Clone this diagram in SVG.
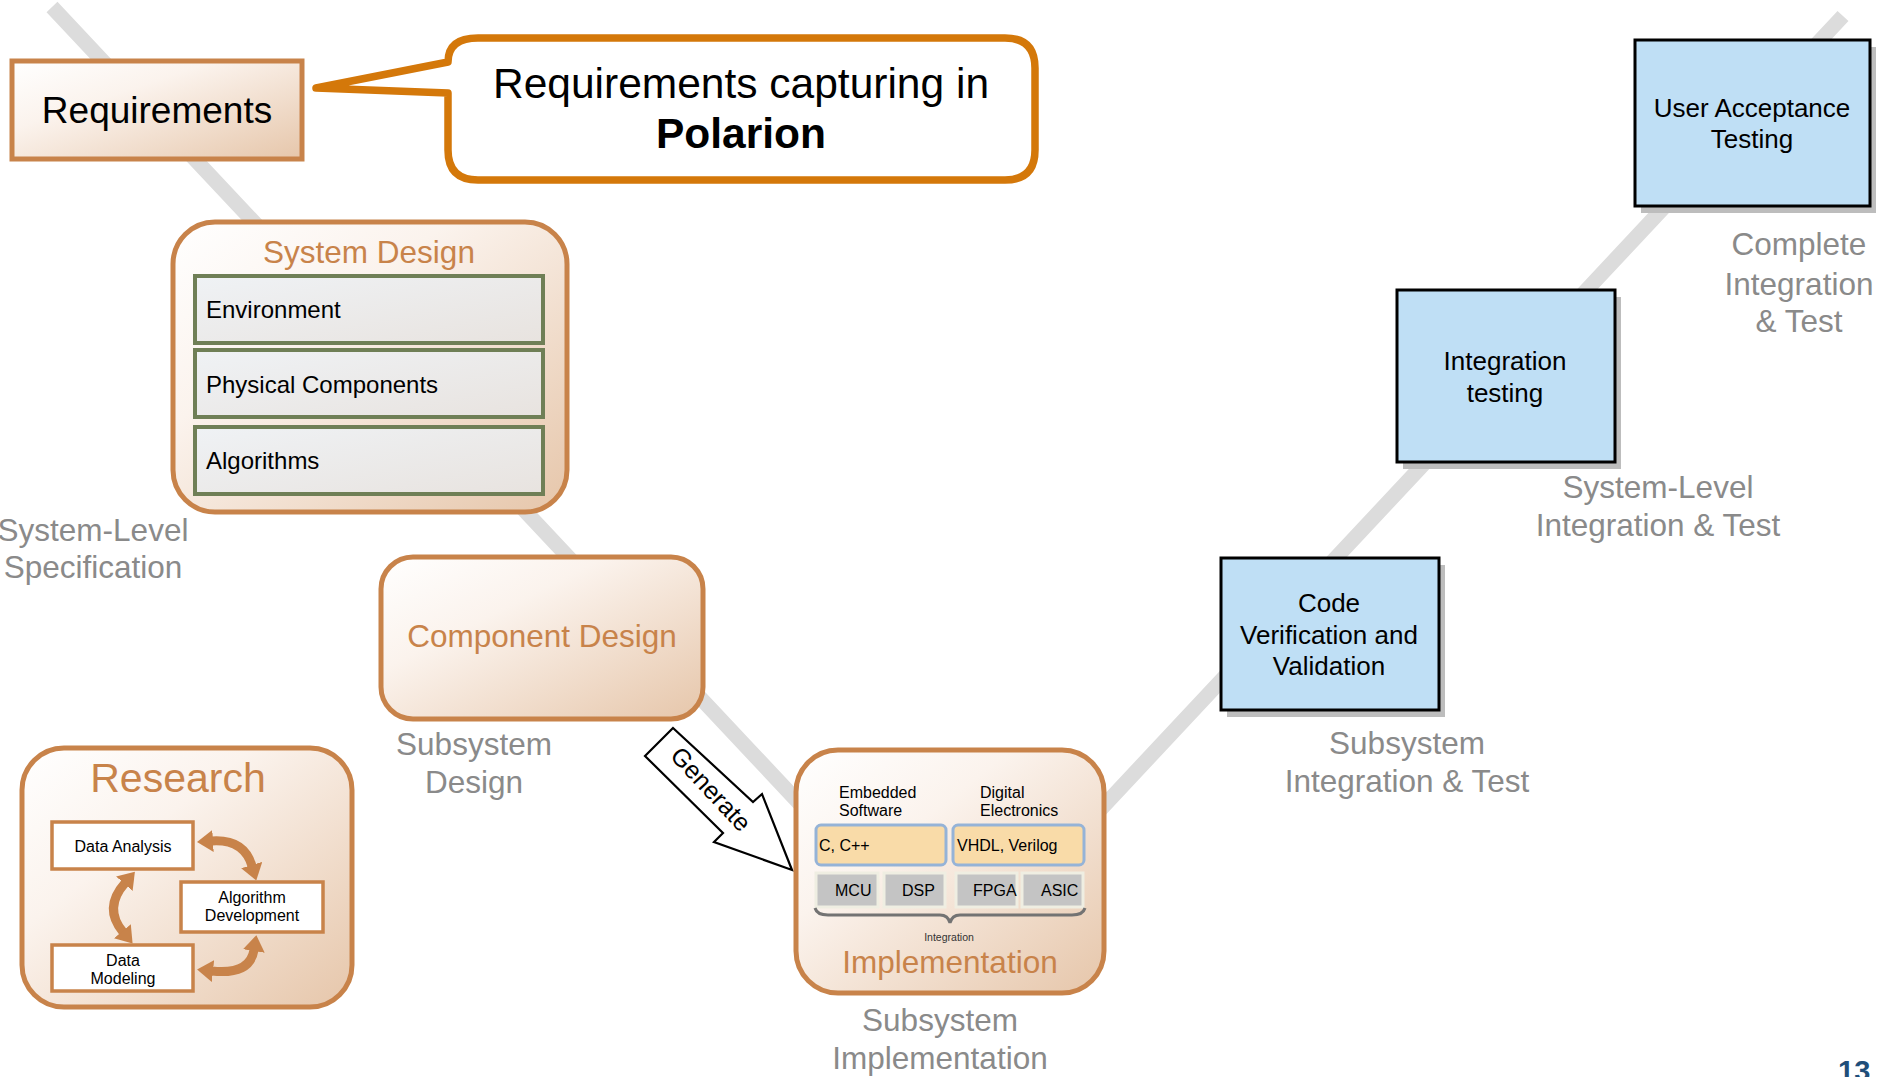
<svg xmlns="http://www.w3.org/2000/svg" width="1877" height="1077" viewBox="0 0 1877 1077">
<defs>
  <linearGradient id="copperFill" x1="0" y1="0" x2="1" y2="1">
    <stop offset="0" stop-color="#ffffff"/>
    <stop offset="0.35" stop-color="#fbf3ed"/>
    <stop offset="1" stop-color="#e6c6aa"/>
  </linearGradient>
  <linearGradient id="greyFill" x1="0" y1="0" x2="1" y2="1">
    <stop offset="0" stop-color="#eff2f5"/>
    <stop offset="1" stop-color="#e8e3df"/>
  </linearGradient>
  <marker id="cuHead" markerUnits="userSpaceOnUse" markerWidth="16" markerHeight="22" viewBox="0 0 16 22" refX="1" refY="11" orient="auto-start-reverse">
    <path d="M0,0 L16,11 L0,22 z" fill="#c8834a"/>
  </marker>
  <style>
    text { font-family: "Liberation Sans", Arial, sans-serif; }
    .cuBox { fill: url(#copperFill); stroke: #c8834a; stroke-width: 5; }
    .cuTitle { fill: #c8834a; text-anchor: middle; }
    .greyLbl { fill: #8a8a8a; font-size: 31.5px; text-anchor: middle; }
    .sdBox { fill: url(#greyFill); stroke: #6f7f56; stroke-width: 4; }
    .sdTxt { font-size: 24px; fill: #000; }
    .blueBox { fill: #bfdff5; stroke: #000; stroke-width: 3; }
    .shadow { fill: #bdbdbd; }
    .blueTxt { font-size: 26px; fill: #000; text-anchor: middle; }
    .resBox { fill: #ffffff; stroke: #c8834a; stroke-width: 3.5; }
    .resTxt { font-size: 16px; fill: #000; text-anchor: middle; }
    .langBox { fill: #f9dba8; stroke: #95b3d7; stroke-width: 3; }
    .chip { fill: #c4c4c4; stroke: #efeee2; stroke-width: 3; }
    .small { font-size: 16px; fill: #000; }
    .cuArrow { fill: none; stroke: #c8834a; stroke-width: 9; marker-start: url(#cuHead); marker-end: url(#cuHead); }
  </style>
</defs>
<rect width="1877" height="1077" fill="#ffffff"/>

<g id="v-model-line">
  <polyline points="52,7 953,967 1843,16" fill="none" stroke="#dcdcdc" stroke-width="15" stroke-linejoin="miter"/>
</g>

<g id="requirements">
  <rect class="cuBox" x="12" y="61" width="290" height="98"/>
  <text x="157" y="123" font-size="37" text-anchor="middle" fill="#000">Requirements</text>
</g>

<g id="callout-polarion">
  <path d="M478,38 H1005 Q1035,38 1035,68 V150 Q1035,180 1005,180 H478 Q448,180 448,150 V93 L316,88 L448,62 Q448,38 478,38 Z" fill="#ffffff" stroke="#d4780a" stroke-width="7.5" stroke-linejoin="round"/>
  <text x="741" y="98" font-size="42.5" text-anchor="middle" fill="#000">Requirements capturing in</text>
  <text x="741" y="148" font-size="42.5" font-weight="bold" text-anchor="middle" fill="#000">Polarion</text>
</g>

<g id="system-design">
  <rect class="cuBox" x="173" y="222" width="394" height="290" rx="42"/>
  <text class="cuTitle" x="369" y="263" font-size="31.5">System Design</text>
  <rect class="sdBox" x="195" y="276" width="348" height="67"/>
  <text class="sdTxt" x="206" y="318">Environment</text>
  <rect class="sdBox" x="195" y="350" width="348" height="67"/>
  <text class="sdTxt" x="206" y="393">Physical Components</text>
  <rect class="sdBox" x="195" y="427" width="348" height="67"/>
  <text class="sdTxt" x="206" y="469">Algorithms</text>
</g>

<g id="label-system-level-spec">
  <text class="greyLbl" x="93" y="541">System-Level</text>
  <text class="greyLbl" x="93" y="578">Specification</text>
</g>

<g id="component-design">
  <rect class="cuBox" x="381" y="557" width="322" height="162" rx="32"/>
  <text class="cuTitle" x="542" y="647" font-size="31.5">Component Design</text>
</g>

<g id="label-subsystem-design">
  <text class="greyLbl" x="474" y="755">Subsystem</text>
  <text class="greyLbl" x="474" y="793">Design</text>
</g>

<g id="research">
  <rect class="cuBox" x="22" y="748" width="330" height="259" rx="42"/>
  <text class="cuTitle" x="178" y="792" font-size="41">Research</text>
  <rect class="resBox" x="52" y="822" width="141" height="47"/>
  <text class="resTxt" x="123" y="852">Data Analysis</text>
  <rect class="resBox" x="181" y="882" width="142" height="50"/>
  <text class="resTxt" x="252" y="903">Algorithm</text>
  <text class="resTxt" x="252" y="921">Development</text>
  <rect class="resBox" x="52" y="945" width="141" height="46"/>
  <text class="resTxt" x="123" y="966">Data</text>
  <text class="resTxt" x="123" y="984">Modeling</text>
</g>

<g id="connectors">
  <path class="cuArrow" d="M212,841 Q244,839 252,866"/>
  <path class="cuArrow" d="M125,883 Q103,908 123,932"/>
  <path class="cuArrow" d="M254,950 Q250,975 212,971"/>
</g>

<g id="generate-arrow">
  <polygon points="673,728 753,802 762,794 792,870 714,842 723,833 645,756" fill="#ffffff" stroke="#000" stroke-width="2.2" stroke-linejoin="miter"/>
  <text x="0" y="0" font-size="25" text-anchor="middle" dy="0.35em" fill="#000" transform="translate(711,789) rotate(47)">Generate</text>
</g>

<g id="implementation">
  <rect class="cuBox" x="796" y="750" width="308" height="243" rx="42"/>
  <text class="small" x="839" y="798">Embedded</text>
  <text class="small" x="839" y="816">Software</text>
  <text class="small" x="980" y="798">Digital</text>
  <text class="small" x="980" y="816">Electronics</text>
  <rect class="langBox" x="816" y="825" width="130" height="40" rx="5"/>
  <text class="small" x="819" y="851">C, C++</text>
  <rect class="langBox" x="953" y="825" width="131" height="40" rx="5"/>
  <text class="small" x="957" y="851">VHDL, Verilog</text>
  <rect class="chip" x="816" y="873" width="62" height="34"/>
  <text class="small" x="835" y="896">MCU</text>
  <rect class="chip" x="884" y="873" width="61" height="34"/>
  <text class="small" x="902" y="896">DSP</text>
  <rect class="chip" x="956" y="873" width="61" height="34"/>
  <text class="small" x="973" y="896">FPGA</text>
  <rect class="chip" x="1022" y="873" width="61" height="34"/>
  <text class="small" x="1041" y="896">ASIC</text>
  <path d="M815,908 Q817,915 828,915 H940 Q948,915 950,923 Q952,915 960,915 H1072 Q1083,915 1085,908" fill="none" stroke="#737373" stroke-width="3"/>
  <text x="949" y="941" font-size="10.5" text-anchor="middle" fill="#333">Integration</text>
  <text class="cuTitle" x="950" y="973" font-size="31.5">Implementation</text>
</g>

<g id="label-subsystem-implementation">
  <text class="greyLbl" x="940" y="1031">Subsystem</text>
  <text class="greyLbl" x="940" y="1069">Implementation</text>
</g>

<g id="code-verification">
  <rect class="shadow" x="1227" y="565" width="218" height="152"/>
  <rect class="blueBox" x="1221" y="558" width="218" height="152"/>
  <text class="blueTxt" x="1329" y="612">Code</text>
  <text class="blueTxt" x="1329" y="644">Verification and</text>
  <text class="blueTxt" x="1329" y="675">Validation</text>
</g>

<g id="label-subsystem-integration">
  <text class="greyLbl" x="1407" y="754">Subsystem</text>
  <text class="greyLbl" x="1407" y="792">Integration &amp; Test</text>
</g>

<g id="integration-testing">
  <rect class="shadow" x="1403" y="297" width="218" height="172"/>
  <rect class="blueBox" x="1397" y="290" width="218" height="172"/>
  <text class="blueTxt" x="1505" y="370">Integration</text>
  <text class="blueTxt" x="1505" y="402">testing</text>
</g>

<g id="label-system-level-integration">
  <text class="greyLbl" x="1658" y="498">System-Level</text>
  <text class="greyLbl" x="1658" y="536">Integration &amp; Test</text>
</g>

<g id="user-acceptance-testing">
  <rect class="shadow" x="1641" y="47" width="235" height="166"/>
  <rect class="blueBox" x="1635" y="40" width="235" height="166"/>
  <text class="blueTxt" x="1752" y="117">User Acceptance</text>
  <text class="blueTxt" x="1752" y="148">Testing</text>
</g>

<g id="label-complete-integration">
  <text class="greyLbl" x="1799" y="255">Complete</text>
  <text class="greyLbl" x="1799" y="295">Integration</text>
  <text class="greyLbl" x="1799" y="332">&amp; Test</text>
</g>

<g id="page-number">
  <text x="1838" y="1081" font-size="29" font-weight="bold" fill="#1f4e79">13</text>
</g>
</svg>
